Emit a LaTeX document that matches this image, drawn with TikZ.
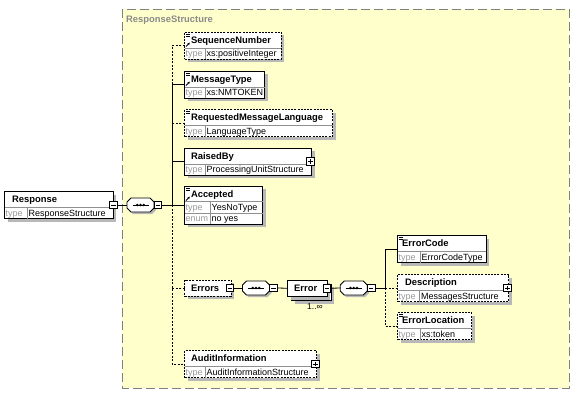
\documentclass[tikz,border=0pt]{standalone}
\usepackage{fontspec}
\setmainfont{Liberation Sans}
\usetikzlibrary{shadows,arrows.meta}
\definecolor{ybg}{HTML}{FFFFCC}
\definecolor{shd}{HTML}{B8B8B8}
\definecolor{divc}{HTML}{909090}
\definecolor{lblc}{HTML}{9A9A9A}
\definecolor{ttl}{HTML}{8A8A8A}
\tikzset{
 ebox/.style={draw=black, fill=white, line width=0.8pt, inner sep=0pt, outer sep=0pt,
   drop shadow={shadow xshift=3pt, shadow yshift=-3pt, fill=shd, opacity=1}},
 optb/.style={dash pattern=on 2pt off 1.2pt},
 nm/.style={font=\fontsize{9.4}{10}\selectfont\bfseries, inner sep=0pt},
 tl/.style={font=\fontsize{9}{10}\selectfont, text=lblc, inner sep=0pt},
 tv/.style={font=\fontsize{9}{10}\selectfont, inner sep=0pt},
 div/.style={draw=divc, line width=0.6pt},
 conn/.style={draw=black, line width=0.8pt},
 oconn/.style={conn, dash pattern=on 2pt off 1.5pt},
 pmb/.style={draw=black, fill=white, line width=0.6pt, minimum size=7.5pt, inner sep=0pt, outer sep=0pt},
 seqn/.style={minimum width=27pt, minimum height=14pt, inner sep=0pt, outer sep=0pt},
}
\newcommand\elem[8]{%
 \node[ebox,#6,minimum width=#4pt,minimum height=#5pt,anchor=north west] (#1) at (#2,#3) {};
 \node[nm,anchor=base west] (#1-n) at ([xshift=#7pt,yshift=-11pt]#1.north west) {#8};}
\newcommand\trow[7]{%
 \draw[div] ([yshift=-#2pt]#1.north west) -- ([yshift=-#2pt]#1.north east);
 \draw[div] ([xshift=#4pt,yshift=-#2pt]#1.north west) -- ([xshift=#4pt,yshift=-#3pt]#1.north west);
 \node[tl,anchor=base west] (#1-l#7) at ([xshift=0.8pt,yshift={-((#2+#3)/2+3.2)}]#1.north west) {#5};
 \node[tv,anchor=base west] (#1-v#7) at ([xshift={#4+1.5},yshift={-((#2+#3)/2+3.2)}]#1.north west) {#6};}
\newcommand\minusbox[2]{%
 \node[pmb] (#1) at (#2) {};
 \draw[line width=0.7pt] ([xshift=-2.2pt]#1.center) -- ([xshift=2.2pt]#1.center);}
\newcommand\plusbox[2]{%
 \node[pmb] (#1) at (#2) {};
 \draw[line width=0.7pt] ([xshift=-2.2pt]#1.center) -- ([xshift=2.2pt]#1.center);
 \draw[line width=0.7pt] ([yshift=-2.2pt]#1.center) -- ([yshift=2.2pt]#1.center);}
\newcommand\octa[4]{%
 \path[#4] ([xshift={4+(#2)},yshift={#3}]#1.north west) -- ([xshift={-4+(#2)},yshift={#3}]#1.north east)
  -- ([xshift={#2},yshift={-4+(#3)}]#1.north east) -- ([xshift={#2},yshift={4+(#3)}]#1.south east)
  -- ([xshift={-4+(#2)},yshift={#3}]#1.south east) -- ([xshift={4+(#2)},yshift={#3}]#1.south west)
  -- ([xshift={#2},yshift={4+(#3)}]#1.south west) -- ([xshift={#2},yshift={-4+(#3)}]#1.north west) -- cycle;}
\newcommand\seqicon[3]{%
 \node[seqn] (#1) at (#2,#3) {};
 \octa{#1}{2}{-2}{fill=shd}
 \octa{#1}{0}{0}{fill=white,draw=black,line width=0.8pt}
 \draw[line width=0.8pt] ([xshift=-8pt]#1.center) -- ([xshift=8pt]#1.center);
 \foreach \k in {-3.2,0,3.2} \fill ([xshift=\k pt]#1.center) circle (1.4pt);
 \minusbox{#1m}{[xshift=4pt]#1.east}}
\newcommand\eqicon[1]{%
 \draw[line width=0.6pt] ([xshift=1.5pt,yshift=-2pt]#1.north west) -- ++(3.5pt,0pt);
 \draw[line width=0.6pt] ([xshift=1.5pt,yshift=-3.8pt]#1.north west) -- ++(3.5pt,0pt);}
\newcommand\arricon[1]{%
 \draw[line width=0.8pt,-{Stealth[length=2.4pt,width=2.4pt]}] ([xshift=1.5pt,yshift=-14.5pt]#1.north west) -- ++(3.8pt,3.8pt);}

\begin{document}
\begin{tikzpicture}[x=1pt,y=-1pt]
\useasboundingbox (0,0) rectangle (575,402);
\fill[white] (0,0) rectangle (575,402);
% container
\draw[draw=gray, fill=ybg, line width=1pt, dash pattern=on 9pt off 4pt] (122,9) rectangle (569,388);
\node[font=\fontsize{9.4}{10}\selectfont\bfseries, text=ttl, anchor=base west, inner sep=0pt] (title) at (126,22) {ResponseStructure};
\coordinate (bus1) at (172,0);
\coordinate (bus2) at (385,0);

% root element
\elem{resp}{4.5}{191.5}{108.5}{27}{}{7.5}{Response}
\trow{resp}{16}{27}{22.5}{type}{ResponseStructure}{a}
\minusbox{resp-m}{[xshift=0.5pt]resp.east}
\seqicon{s1}{140.5}{205}

% children
\elem{sn}{184.5}{32}{96.5}{27}{optb}{6.3}{SequenceNumber}
\trow{sn}{16}{27}{20.5}{type}{xs:positiveInteger}{a}
\eqicon{sn}\arricon{sn}

\elem{mt}{184.5}{71}{80}{27}{}{6.3}{MessageType}
\trow{mt}{16}{27}{20.5}{type}{xs:NMTOKEN}{a}
\eqicon{mt}\arricon{mt}

\elem{rml}{184.5}{109.5}{148}{27}{optb}{6.3}{RequestedMessageLanguage}
\trow{rml}{16}{27}{20.5}{type}{LanguageType}{a}
\eqicon{rml}

\elem{rb}{184.5}{148}{127}{27}{}{6.3}{RaisedBy}
\trow{rb}{16}{27}{20.5}{type}{ProcessingUnitStructure}{a}
\plusbox{rb-p}{[xshift=-1pt]rb.east}

\elem{acc}{184.5}{186}{78}{38}{}{6.3}{Accepted}
\trow{acc}{15.5}{27}{25.5}{type}{YesNoType}{a}
\trow{acc}{27}{38}{25.5}{enum}{no yes}{b}
\eqicon{acc}\arricon{acc}

\elem{errs}{184.5}{280}{46.5}{16}{optb}{6.3}{Errors}
\minusbox{errs-m}{[xshift=-1pt]errs.east}
\seqicon{s2}{256}{288}

\node[ebox, minimum width=39.5pt, minimum height=16.5pt, anchor=north west] (error-b) at (291.5,284) {};
\elem{error}{287.5}{280}{39.5}{16.5}{}{6.5}{Error}
\minusbox{error-m}{error.east}
\node[font=\fontsize{8.5}{9}\selectfont, inner sep=0pt, anchor=base west] (mult) at (307,309.5) {1..∞};
\seqicon{s3}{353.7}{288}

\elem{ec}{397.5}{235.5}{88.5}{27}{}{4.5}{ErrorCode}
\trow{ec}{16}{27}{22.5}{type}{ErrorCodeType}{a}
\eqicon{ec}

\elem{desc}{397.5}{274.5}{111}{27}{optb}{7.5}{Description}
\trow{desc}{16}{27}{22}{type}{MessagesStructure}{a}
\plusbox{desc-p}{[xshift=-1pt]desc.east}

\elem{el}{397.5}{312.5}{74}{27}{optb}{4.5}{ErrorLocation}
\trow{el}{16}{27}{22.5}{type}{xs:token}{a}
\eqicon{el}

\elem{audit}{184.5}{350.5}{132}{27}{optb}{6.3}{AuditInformation}
\trow{audit}{16}{27}{20.5}{type}{AuditInformationStructure}{a}
\plusbox{audit-p}{[xshift=-1pt]audit.east}

% connectors
\draw[conn] (resp-m.east) -- (s1.west);
\draw[conn] (s1m.east) -- (acc.west);
\draw[oconn] (sn.west) -| (bus1 |- mt.west);
\draw[conn] (mt.west) -| (bus1 |- acc.west);
\draw[oconn] (rml.west) -- (bus1 |- rml.west);
\draw[conn] (rb.west) -- (bus1 |- rb.west);
\draw[oconn] (bus1 |- acc.west) |- (audit.west);
\draw[oconn] (errs.west) -- (bus1 |- errs.west);
\draw[conn] (errs-m.east) -- (s2.west);
\draw[conn] (s2m.east) -- (error.west);
\draw[conn] (error-m.east) -- (s3.west);
\draw[conn] (s3m.east) -- (bus2 |- s3m.east) -- (bus2 |- ec.west) -- (ec.west);
\draw[oconn] (bus2 |- desc.west) -- (desc.west);
\draw[oconn] (bus2 |- desc.west) -- (bus2 |- el.west) -- (el.west);
\end{tikzpicture}
\end{document}
